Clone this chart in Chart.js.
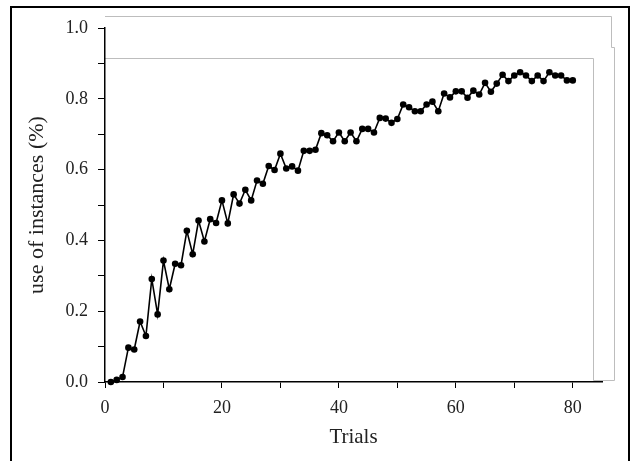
<!DOCTYPE html>
<html>
<head>
<meta charset="utf-8">
<script src="https://cdn.jsdelivr.net/npm/chart.js@4/dist/chart.umd.min.js"></script>
<style>
  html, body { margin: 0; padding: 0; background: #fff; }
  canvas { display: block; }
</style>
</head>
<body>
<canvas id="trialsChart" width="633" height="461"></canvas>
<script>
// Trial numbers (x) and share of instances used (y)
const trials = [
    1, 2, 3, 4, 5, 6, 7, 8, 9, 10,
    11, 12, 13, 14, 15, 16, 17, 18, 19, 20,
    21, 22, 23, 24, 25, 26, 27, 28, 29, 30,
    31, 32, 33, 34, 35, 36, 37, 38, 39, 40,
    41, 42, 43, 44, 45, 46, 47, 48, 49, 50,
    51, 52, 53, 54, 55, 56, 57, 58, 59, 60,
    61, 62, 63, 64, 65, 66, 67, 68, 69, 70,
    71, 72, 73, 74, 75, 76, 77, 78, 79, 80
];
const useOfInstances = [
    0.000, 0.006, 0.014, 0.097, 0.092, 0.171, 0.130, 0.291, 0.191, 0.343,
    0.262, 0.334, 0.330, 0.427, 0.361, 0.456, 0.397, 0.460, 0.449, 0.513,
    0.448, 0.530, 0.504, 0.543, 0.513, 0.569, 0.560, 0.610, 0.599, 0.645,
    0.603, 0.609, 0.597, 0.653, 0.653, 0.656, 0.703, 0.697, 0.680, 0.705,
    0.680, 0.705, 0.680, 0.715, 0.715, 0.705, 0.746, 0.744, 0.732, 0.743,
    0.784, 0.776, 0.765, 0.765, 0.784, 0.792, 0.765, 0.815, 0.804, 0.821,
    0.821, 0.803, 0.823, 0.812, 0.845, 0.820, 0.843, 0.868, 0.850, 0.866,
    0.875, 0.866, 0.850, 0.866, 0.850, 0.875, 0.866, 0.866, 0.852, 0.852
];
const yAxisTitle = 'use of instances (%)';
const xAxisTitle = 'Trials';

const SERIF = '"Liberation Serif", "Times New Roman", serif';

// Frame lines of the scanned figure (outer border and the grey panel edges)
const figureFrame = {
    id: 'figureFrame',
    beforeDraw(chart) {
        const ctx = chart.ctx;
        ctx.save();
        ctx.strokeStyle = '#bdbdbd';
        ctx.lineWidth = 1;
        ctx.beginPath();
        ctx.moveTo(105, 16.5);
        ctx.lineTo(611.5, 16.5);
        ctx.lineTo(611.5, 47.5);
        ctx.lineTo(614.5, 47.5);
        ctx.lineTo(614.5, 380.5);
        ctx.lineTo(593.5, 380.5);
        ctx.moveTo(105, 58.5);
        ctx.lineTo(593.5, 58.5);
        ctx.lineTo(593.5, 380.5);
        ctx.stroke();

        ctx.strokeStyle = '#000';
        ctx.lineWidth = 2;
        ctx.strokeRect(11, 7, 618, 470);
        ctx.restore();
    }
};

const points = trials.map((t, i) => ({ x: t, y: useOfInstances[i] }));

new Chart(document.getElementById('trialsChart'), {
    type: 'line',
    data: {
        datasets: [{
            data: points,
            borderColor: '#000',
            borderWidth: 1.6,
            pointRadius: 3.3,
            pointBackgroundColor: '#000',
            pointBorderWidth: 0,
            tension: 0,
            clip: false
        }]
    },
    options: {
        responsive: false,
        animation: false,
        devicePixelRatio: 1,
        layout: {
            padding: { top: 28, right: 31, bottom: 0, left: 0 }
        },
        plugins: {
            legend: { display: false },
            tooltip: { enabled: false }
        },
        scales: {
            x: {
                type: 'linear',
                min: 0,
                max: 85,
                afterFit: function(scale) { scale.height = 79; },
                border: { display: true, color: '#000', width: 1.5 },
                grid: { drawOnChartArea: false, drawTicks: true, tickLength: 6, color: '#000' },
                ticks: {
                    stepSize: 10,
                    includeBounds: false,
                    maxRotation: 0,
                    padding: 9,
                    color: '#222',
                    font: { family: SERIF, size: 18 },
                    callback: function(value) {
                        return value % 20 === 0 ? String(value) : '';
                    }
                },
                title: {
                    display: true,
                    text: xAxisTitle,
                    color: '#222',
                    font: { family: SERIF, size: 21 },
                    padding: { top: 0, bottom: 11 }
                }
            },
            y: {
                min: 0,
                max: 1,
                afterFit: function(scale) { scale.width = 105; },
                border: { display: true, color: '#000', width: 1.5 },
                grid: { drawOnChartArea: false, drawTicks: true, tickLength: 7, color: '#000' },
                ticks: {
                    stepSize: 0.1,
                    padding: 10,
                    color: '#222',
                    font: { family: SERIF, size: 18 },
                    callback: function(value, index) {
                        return index % 2 === 0 ? value.toFixed(1) : '';
                    }
                },
                title: {
                    display: true,
                    text: yAxisTitle,
                    color: '#222',
                    font: { family: SERIF, size: 22 },
                    padding: { top: 24, bottom: 0 }
                }
            }
        }
    },
    plugins: [figureFrame]
});
</script>
</body>
</html>
